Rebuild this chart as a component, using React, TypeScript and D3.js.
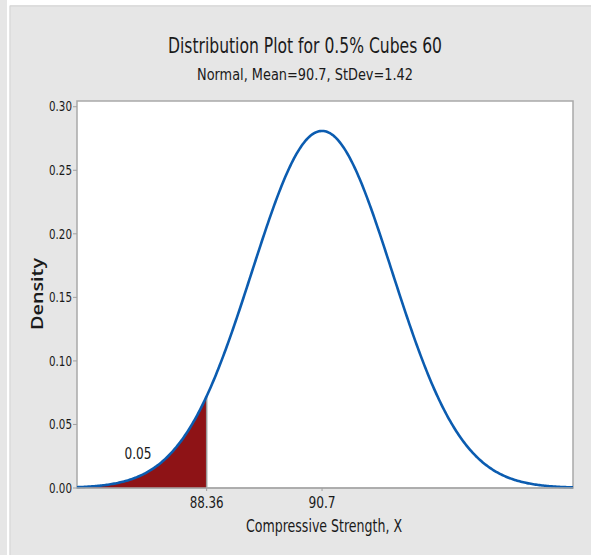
import React from "react";
import * as d3 from "d3";

// Distribution parameters and annotation values
const MEAN = 90.7;
const STDEV = 1.42;
const CUTOFF = 88.36;
const TAIL_AREA_LABEL = "0.05";
const xTickValues = [88.36, 90.7];
const xTickLabels = ["88.36", "90.7"];
const yTickValues = [0, 0.05, 0.1, 0.15, 0.2, 0.25, 0.3];
const yTickLabels = ["0.00", "0.05", "0.10", "0.15", "0.20", "0.25", "0.30"];
const xDomain = [85.73, 95.79];
const yDomain = [0, 0.3045];

const W = 591;
const H = 555;
const plot = { left: 77, right: 573, top: 101, bottom: 488 };

const NARROW = "'DejaVu Sans Condensed', 'Liberation Sans Narrow', sans-serif";

function normalPdf(x: number) {
  const z = (x - MEAN) / STDEV;
  return Math.exp(-0.5 * z * z) / (STDEV * Math.sqrt(2 * Math.PI));
}

export default function App() {
  const x = d3.scaleLinear().domain(xDomain).range([plot.left, plot.right]);
  const y = d3.scaleLinear().domain(yDomain).range([plot.bottom, plot.top]);

  const samples = d3.range(0, 401).map((i) => xDomain[0] + ((xDomain[1] - xDomain[0]) * i) / 400);
  const curve = samples.map((v) => [v, normalPdf(v)] as [number, number]);
  const tailPts = samples.filter((v) => v <= CUTOFF).concat([CUTOFF]).map((v) => [v, normalPdf(v)] as [number, number]);

  const line = d3.line<[number, number]>().x((d) => x(d[0])).y((d) => y(d[1]));
  const area = d3
    .area<[number, number]>()
    .x((d) => x(d[0]))
    .y0(y(0))
    .y1((d) => y(d[1]));

  return (
    <div style={{ position: "absolute", left: 0, top: 0 }}>
      <svg width={W} height={H} style={{ display: "block" }}>
        <rect x={0} y={0} width={W} height={H} fill="#e6e6e6" />
        <rect x={9} y={0} width={W - 9} height={5} fill="#ffffff" />
        <rect x={7} y={0} width={2.5} height={H} fill="#ffffff" />
        <line x1={10} y1={6} x2={W} y2={6} stroke="#d4d4d4" strokeWidth={1} />
        <line x1={10} y1={6} x2={10} y2={H} stroke="#d4d4d4" strokeWidth={1} />

        <text x={305} y={53} textAnchor="middle" fontFamily={NARROW} fontSize={22} fill="#1a1a1a"
          textLength={274} lengthAdjust="spacingAndGlyphs">
          Distribution Plot for 0.5% Cubes 60
        </text>
        <text x={305} y={80} textAnchor="middle" fontFamily={NARROW} fontSize={16.5} fill="#1a1a1a"
          textLength={216} lengthAdjust="spacingAndGlyphs">
          Normal, Mean=90.7, StDev=1.42
        </text>

        <rect
          x={plot.left}
          y={plot.top}
          width={plot.right - plot.left}
          height={plot.bottom - plot.top}
          fill="#ffffff"
          stroke="#a9a9a9"
          strokeWidth={1.5}
        />

        <path d={area(tailPts) || ""} fill="#8e1316" />
        <line x1={x(CUTOFF)} x2={x(CUTOFF)} y1={y(0)} y2={y(normalPdf(CUTOFF))} stroke="#9a9a9a" strokeWidth={1.5} />
        <path d={line(curve) || ""} fill="none" stroke="#0b5cb0" strokeWidth={2.6} />

        <line x1={plot.left} x2={plot.right} y1={plot.bottom} y2={plot.bottom} stroke="#a9a9a9" strokeWidth={1.5} />

        {yTickValues.map((v, i) => (
          <g key={v}>
            <line x1={plot.left - 4} x2={plot.left} y1={y(v)} y2={y(v)} stroke="#a0a0a0" strokeWidth={1} />
            <text x={plot.left - 5} y={y(v)} dy="0.35em" textAnchor="end" fontFamily={NARROW} fontSize={13.5} fill="#1a1a1a"
              textLength={23} lengthAdjust="spacingAndGlyphs">
              {yTickLabels[i]}
            </text>
          </g>
        ))}

        {xTickValues.map((v, i) => (
          <g key={v}>
            <line x1={x(v)} x2={x(v)} y1={plot.bottom} y2={plot.bottom + 3} stroke="#a0a0a0" strokeWidth={1} />
            <text x={x(v)} y={plot.bottom + 20} textAnchor="middle" fontFamily={NARROW} fontSize={16} fill="#1a1a1a"
              textLength={xTickLabels[i].length * 6.8} lengthAdjust="spacingAndGlyphs">
              {xTickLabels[i]}
            </text>
          </g>
        ))}

        <text x={324} y={532} textAnchor="middle" fontFamily={NARROW} fontSize={18} fill="#1a1a1a"
          textLength={156} lengthAdjust="spacingAndGlyphs">
          Compressive Strength, X
        </text>
        <text
          transform="translate(43,294) rotate(-90)"
          textAnchor="middle"
          fontFamily="'Open Sans', 'Noto Sans', sans-serif"
          fontWeight={600}
          fontSize={16}
          fill="#1a1a1a"
          textLength={72}
          lengthAdjust="spacingAndGlyphs"
        >
          Density
        </text>

        <text x={138} y={459} textAnchor="middle" fontFamily={NARROW} fontSize={16} fill="#1a1a1a"
          textLength={27} lengthAdjust="spacingAndGlyphs">
          {TAIL_AREA_LABEL}
        </text>
      </svg>
    </div>
  );
}
